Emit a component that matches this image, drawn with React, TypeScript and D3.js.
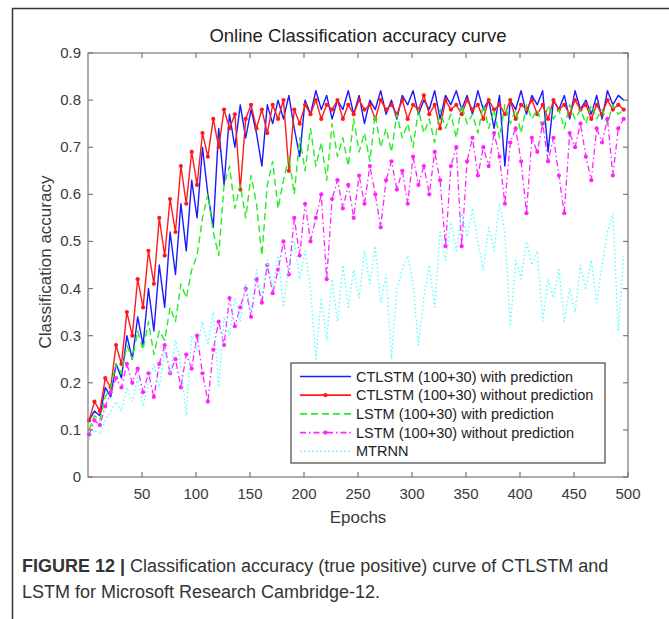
import React from "react";
import * as d3 from "d3";

// Epochs sampled (every 5th epoch)
const epochs: number[] = d3.range(1, 500, 5);

const ctlstmPred: number[] = [
  0.12, 0.14, 0.13, 0.19, 0.17, 0.24, 0.21, 0.30, 0.25, 0.34,
  0.28, 0.40, 0.31, 0.45, 0.36, 0.52, 0.43, 0.58, 0.48, 0.63,
  0.55, 0.70, 0.60, 0.53, 0.74, 0.62, 0.77, 0.70, 0.79, 0.72,
  0.78, 0.73, 0.66, 0.79, 0.75, 0.80, 0.76, 0.81, 0.74, 0.68,
  0.80, 0.77, 0.82, 0.78, 0.81, 0.76, 0.80, 0.78, 0.82, 0.77,
  0.81, 0.75, 0.80, 0.78, 0.82, 0.77, 0.80, 0.76, 0.81, 0.79,
  0.82, 0.77, 0.80, 0.78, 0.82, 0.76, 0.81, 0.79, 0.82, 0.78,
  0.81, 0.77, 0.82, 0.78, 0.80, 0.74, 0.81, 0.66, 0.80, 0.78,
  0.82, 0.77, 0.81, 0.79, 0.82, 0.69, 0.80, 0.78, 0.81, 0.76,
  0.82, 0.78, 0.80, 0.77, 0.81, 0.76, 0.82, 0.79, 0.81, 0.80,
];

const ctlstmNoPred: number[] = [
  0.12, 0.16, 0.14, 0.21, 0.19, 0.28, 0.24, 0.35, 0.30, 0.42,
  0.36, 0.48, 0.41, 0.55, 0.47, 0.59, 0.52, 0.66, 0.58, 0.69,
  0.62, 0.73, 0.68, 0.76, 0.70, 0.78, 0.74, 0.77, 0.61, 0.76,
  0.79, 0.74, 0.78, 0.73, 0.79, 0.76, 0.80, 0.65, 0.78, 0.75,
  0.79, 0.77, 0.80, 0.76, 0.79, 0.78, 0.80, 0.76, 0.79, 0.77,
  0.80, 0.78, 0.79, 0.76, 0.80, 0.78, 0.79, 0.77, 0.80, 0.76,
  0.79, 0.78, 0.81, 0.77, 0.79, 0.74, 0.80, 0.78, 0.79, 0.77,
  0.80, 0.78, 0.79, 0.76, 0.80, 0.78, 0.79, 0.77, 0.80, 0.76,
  0.79, 0.78, 0.80, 0.77, 0.79, 0.76, 0.80, 0.78, 0.79, 0.77,
  0.80, 0.78, 0.79, 0.76, 0.79, 0.77, 0.80, 0.78, 0.79, 0.78,
];

const lstmPred: number[] = [
  0.10, 0.13, 0.12, 0.17, 0.19, 0.24, 0.22, 0.28, 0.25, 0.31,
  0.27, 0.33, 0.26, 0.31, 0.29, 0.36, 0.33, 0.41, 0.38, 0.44,
  0.47, 0.55, 0.60, 0.52, 0.47, 0.62, 0.66, 0.57, 0.62, 0.55,
  0.64, 0.58, 0.47, 0.62, 0.67, 0.57, 0.63, 0.68, 0.60, 0.72,
  0.65, 0.74, 0.66, 0.71, 0.63, 0.75, 0.68, 0.72, 0.66, 0.76,
  0.69, 0.73, 0.67, 0.77, 0.70, 0.74, 0.69, 0.77, 0.72, 0.75,
  0.70, 0.78, 0.73, 0.76, 0.71, 0.78, 0.74, 0.77, 0.72, 0.79,
  0.75, 0.77, 0.73, 0.79, 0.74, 0.78, 0.72, 0.79, 0.75, 0.78,
  0.73, 0.79, 0.76, 0.78, 0.74, 0.79, 0.76, 0.78, 0.74, 0.79,
  0.76, 0.78, 0.75, 0.79, 0.76, 0.78, 0.75, 0.79, 0.77, 0.78,
];

const lstmNoPred: number[] = [
  0.09, 0.12, 0.11, 0.15, 0.18, 0.21, 0.19, 0.24, 0.20, 0.23,
  0.18, 0.22, 0.17, 0.24, 0.28, 0.22, 0.25, 0.19, 0.26, 0.23,
  0.30, 0.22, 0.16, 0.27, 0.33, 0.28, 0.38, 0.32, 0.36, 0.40,
  0.34, 0.42, 0.37, 0.45, 0.39, 0.44, 0.50, 0.43, 0.55, 0.47,
  0.58, 0.50, 0.55, 0.60, 0.42, 0.59, 0.63, 0.57, 0.62, 0.55,
  0.64, 0.58, 0.66, 0.60, 0.53, 0.63, 0.67, 0.61, 0.65, 0.58,
  0.68, 0.62, 0.66, 0.60, 0.69, 0.63, 0.49, 0.66, 0.70, 0.49,
  0.67, 0.72, 0.64, 0.70, 0.66, 0.73, 0.68, 0.58, 0.71, 0.74,
  0.67, 0.56, 0.72, 0.69, 0.75, 0.67, 0.72, 0.64, 0.56, 0.73,
  0.70, 0.75, 0.68, 0.63, 0.74, 0.71, 0.76, 0.64, 0.74, 0.76,
];

const mtrnn: number[] = [
  0.08, 0.10, 0.09, 0.12, 0.14, 0.16, 0.14, 0.19, 0.16, 0.21,
  0.15, 0.20, 0.24, 0.19, 0.27, 0.22, 0.29, 0.24, 0.13, 0.30,
  0.27, 0.33, 0.28, 0.35, 0.19, 0.34, 0.30, 0.38, 0.33, 0.41,
  0.35, 0.44, 0.38, 0.46, 0.40, 0.47, 0.36, 0.45, 0.50, 0.42,
  0.48, 0.40, 0.25, 0.38, 0.29, 0.42, 0.33, 0.45, 0.36, 0.44,
  0.38, 0.48, 0.41, 0.49, 0.37, 0.43, 0.25, 0.40, 0.44, 0.47,
  0.41, 0.28, 0.38, 0.45, 0.36, 0.52, 0.46, 0.54, 0.48, 0.56,
  0.51, 0.57, 0.50, 0.44, 0.53, 0.48, 0.58, 0.52, 0.32, 0.46,
  0.42, 0.50, 0.45, 0.48, 0.33, 0.42, 0.38, 0.44, 0.33, 0.40,
  0.35, 0.45, 0.40, 0.46, 0.37, 0.45, 0.52, 0.56, 0.31, 0.47,
];

const seriesNames: string[] = [
  "CTLSTM (100+30) with prediction",
  "CTLSTM (100+30) without prediction",
  "LSTM (100+30) with prediction",
  "LSTM (100+30) without prediction",
  "MTRNN",
];

const xTicks: number[] = [50, 100, 150, 200, 250, 300, 350, 400, 450, 500];
const yTicks: number[] = [0, 0.1, 0.2, 0.3, 0.4, 0.5, 0.6, 0.7, 0.8, 0.9];

type Style = { color: string; dash?: string; marker: boolean; width: number };
const styles: Style[] = [
  { color: "#1a1aff", marker: false, width: 1.4 },
  { color: "#ff1a1a", marker: true, width: 1.4 },
  { color: "#22ee22", dash: "7,4", marker: false, width: 1.4 },
  { color: "#ff22ff", dash: "6,3,1.5,3", marker: true, width: 1.3 },
  { color: "#55ffff", dash: "1.5,2.5", marker: false, width: 1.4 },
];

export default function App() {
  const x = d3.scaleLinear().domain([0, 500]).range([88, 628]);
  const y = d3.scaleLinear().domain([0, 0.9]).range([477, 53]);
  const data = [ctlstmPred, ctlstmNoPred, lstmPred, lstmNoPred, mtrnn];
  const lineGen = d3
    .line<number>()
    .x((_, i) => x(epochs[i]))
    .y((d) => y(d));

  const font = "'Liberation Sans', Arial, Helvetica, sans-serif";
  const [x0, x1] = x.range();
  const [y0, y1] = y.range();
  const axisColor = "#777";
  const textColor = "#3a3a3a";

  const legendX = 291;
  const legendY = 363;
  const legendW = 314;
  const legendH = 100;
  const rowH = 18.7;

  return (
    <svg
      width={669}
      height={619}
      style={{ position: "absolute", left: 0, top: 0, background: "#fff" }}
      fontFamily={font}
    >
      <rect x={0} y={0} width={669} height={619} fill="#fff" />
      {/* outer figure frame */}
      <path d="M12.5,640 L12.5,8.5 L680,8.5" fill="none" stroke="#333" strokeWidth={1.5} />

      {/* title */}
      <text x={358} y={42} textAnchor="middle" fontSize={18.5} fill="#222">
        Online Classification accuracy curve
      </text>

      {/* series */}
      <g>
        {data.map((vals, si) => {
          const st = styles[si];
          return (
            <g key={si}>
              <path
                d={lineGen(vals) || ""}
                fill="none"
                stroke={st.color}
                strokeWidth={st.width}
                strokeDasharray={st.dash}
                strokeLinejoin="round"
              />
              {st.marker &&
                vals.map((v, i) => (
                  <circle key={i} cx={x(epochs[i])} cy={y(v)} r={2.1} fill={st.color} />
                ))}
            </g>
          );
        })}
      </g>

      {/* axes box */}
      <rect x={x0} y={y1} width={x1 - x0} height={y0 - y1} fill="none" stroke={axisColor} strokeWidth={1.2} />
      {xTicks.map((t) => (
        <g key={"xt" + t}>
          <line x1={x(t)} x2={x(t)} y1={y0} y2={y0 - 5} stroke={axisColor} strokeWidth={1.2} />
          <line x1={x(t)} x2={x(t)} y1={y1} y2={y1 + 5} stroke={axisColor} strokeWidth={1.2} />
          <text x={x(t)} y={y0 + 22} textAnchor="middle" fontSize={15} fill={textColor}>
            {t}
          </text>
        </g>
      ))}
      {yTicks.map((t) => (
        <g key={"yt" + t}>
          <line x1={x0} x2={x0 + 5} y1={y(t)} y2={y(t)} stroke={axisColor} strokeWidth={1.2} />
          <line x1={x1} x2={x1 - 5} y1={y(t)} y2={y(t)} stroke={axisColor} strokeWidth={1.2} />
          <text x={x0 - 7} y={y(t) + 5} textAnchor="end" fontSize={15} fill={textColor}>
            {t === 0 ? "0" : t.toFixed(1)}
          </text>
        </g>
      ))}

      {/* axis labels */}
      <text x={358} y={523} textAnchor="middle" fontSize={17} fill={textColor}>
        Epochs
      </text>
      <text
        transform={`translate(51, ${(y0 + y1) / 2 - 3}) rotate(-90)`}
        textAnchor="middle"
        fontSize={17}
        fill={textColor}
      >
        Classification accuracy
      </text>

      {/* legend */}
      <rect x={legendX} y={legendY} width={legendW} height={legendH} fill="#fff" stroke="#444" strokeWidth={1.2} />
      {seriesNames.map((name, i) => {
        const st = styles[i];
        const ly = legendY + 13.5 + i * rowH;
        return (
          <g key={name}>
            <line
              x1={legendX + 9}
              x2={legendX + 60}
              y1={ly}
              y2={ly}
              stroke={st.color}
              strokeWidth={st.width + 0.3}
              strokeDasharray={st.dash}
            />
            {st.marker && <circle cx={legendX + 34.5} cy={ly} r={2.1} fill={st.color} />}
            <text x={legendX + 65} y={ly + 5} fontSize={14.5} fill="#222">
              {name}
            </text>
          </g>
        );
      })}

      {/* caption */}
      <text x={22} y={572} fontSize={18} fill="#333">
        <tspan fontWeight="bold">FIGURE 12 |</tspan>
        <tspan> Classification accuracy (true positive) curve of CTLSTM and</tspan>
      </text>
      <text x={22} y={598} fontSize={18} fill="#333">
        LSTM for Microsoft Research Cambridge-12.
      </text>
    </svg>
  );
}
